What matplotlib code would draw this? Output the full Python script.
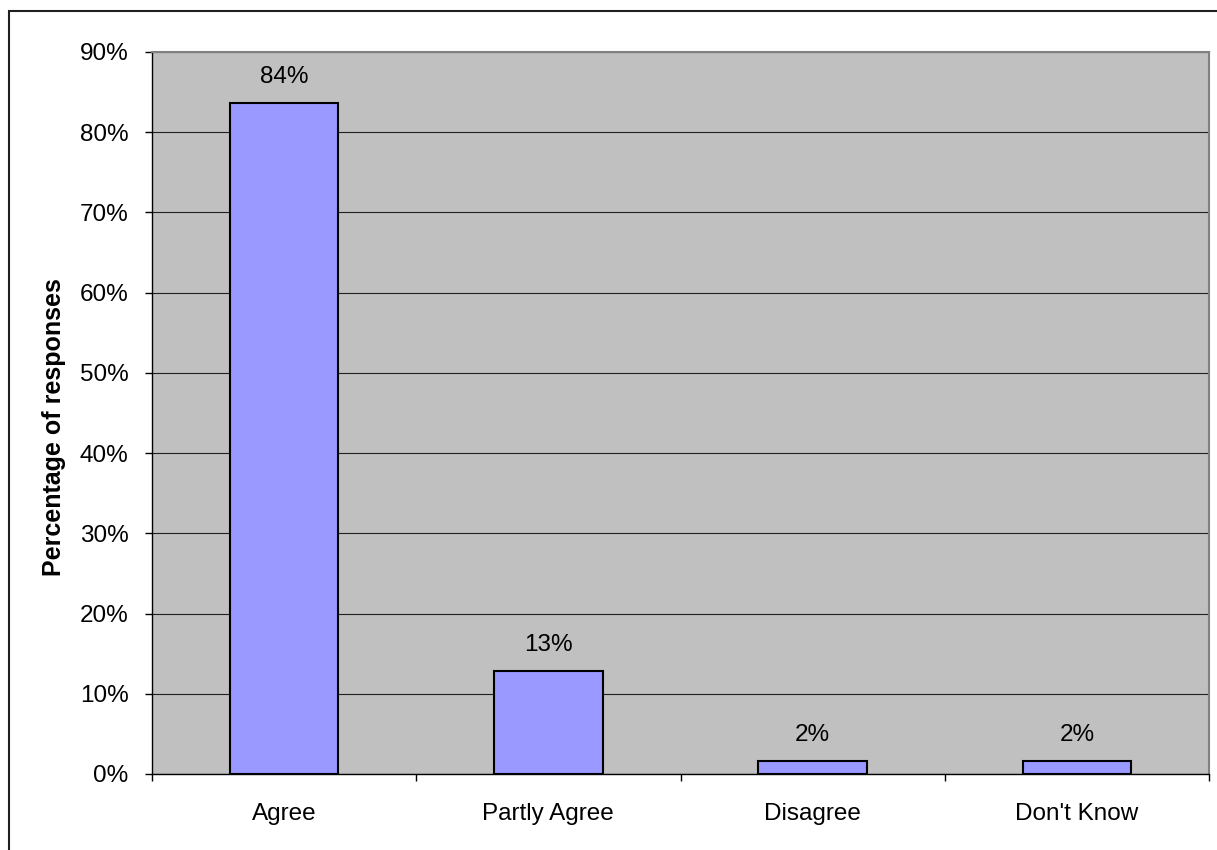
import matplotlib
matplotlib.use("Agg")
import matplotlib.pyplot as plt
from matplotlib.patches import Rectangle
import numpy as np

plt.rcParams['font.family'] = ['Liberation Sans', 'DejaVu Sans']

categories = ['Agree', 'Partly Agree', 'Disagree', "Don't Know"]
responses = [83.7, 12.9, 1.6, 1.6]
yticks = [0, 10, 20, 30, 40, 50, 60, 70, 80, 90]

fig = plt.figure(figsize=(12.17, 8.5), dpi=100)
ax = fig.add_axes([152 / 1217, 1 - 774 / 850, (1209 - 152) / 1217, (774 - 52) / 850])

# outer chart border (runs off the right and bottom edges)
fig.patches.append(Rectangle((9 / 1217, -0.1), 1.2, 1 - 11 / 850 + 0.1,
                             transform=fig.transFigure, fill=False,
                             edgecolor='#202020', linewidth=1.5, clip_on=False))

ax.set_facecolor('#C0C0C0')
x = np.arange(len(categories))
bars = ax.bar(x, responses, width=0.41, color='#9999FF', edgecolor='black',
              linewidth=1.5, zorder=3)

for b, v in zip(bars, responses):
    ax.annotate(f'{v:.0f}%', (b.get_x() + b.get_width() / 2, v),
                xytext=(0, 14.4), textcoords='offset points',
                ha='center', va='baseline', fontsize=17.5)

ax.set_xlim(-0.5, len(categories) - 0.5)
ax.set_ylim(0, 90)
ax.set_yticks(yticks)
ax.set_yticklabels([f'{t}%' for t in yticks])
ax.yaxis.grid(True, color='#202020', linewidth=0.8, zorder=1)
ax.set_axisbelow(True)

# category boundaries as major ticks, names as minor ticks
ax.set_xticks(np.arange(-0.5, len(categories), 1.0))
ax.set_xticklabels([])
ax.set_xticks(x, minor=True)
ax.set_xticklabels(categories, minor=True)
ax.tick_params(axis='x', which='major', direction='out', length=5, width=1, color='black')
ax.tick_params(axis='x', which='minor', length=0, pad=21, labelsize=17.5)
ax.tick_params(axis='y', direction='out', length=5, width=1, color='black',
               pad=12, labelsize=17.5)

ax.set_ylabel('Percentage of responses', fontsize=18, fontweight='bold')
ax.yaxis.set_label_coords(-0.0814, 0.481)

for side in ('top', 'right'):
    ax.spines[side].set_color('#808080')
    ax.spines[side].set_linewidth(1.5)
for side in ('left', 'bottom'):
    ax.spines[side].set_color('black')
    ax.spines[side].set_linewidth(1)

fig.savefig('out.png', dpi=100)
